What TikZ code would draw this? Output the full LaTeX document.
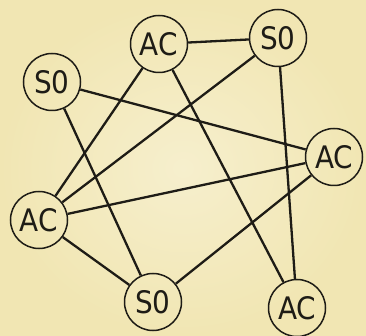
\documentclass[tikz,border=0pt]{standalone}
\usepackage{fontspec}
\setmainfont{DejaVu Sans Condensed}
\definecolor{bgin}{HTML}{F6EFCD}
\definecolor{bgout}{HTML}{F1E6B3}
\definecolor{ink}{HTML}{1E1C16}
\begin{document}
\begin{tikzpicture}[x=1pt,y=-1pt,
  vtx/.style={circle,draw=ink,line width=1.5pt,minimum size=57pt,inner sep=0pt,
    font=\fontsize{31}{31}\selectfont,text=ink},
  edge/.style={draw=ink,line width=2.3pt}]
\useasboundingbox (0,0) rectangle (366,336);
\shade[inner color=bgin,outer color=bgout] (0,0) rectangle (366,336);
\node[vtx] (act) at (159,44) {AC};
\node[vtx] (sotr) at (278,38) {S0};
\node[vtx] (sol) at (52,82) {S0};
\node[vtx] (acr) at (334,157) {AC};
\node[vtx] (acl) at (39,220) {AC};
\node[vtx] (sob) at (153,302) {S0};
\node[vtx] (acbr) at (297,308) {AC};
\path[edge] (act) -- (sotr);
\path[edge] (act) -- (acl);
\path[edge] (act) -- (acbr);
\path[edge] (sotr) -- (acl);
\path[edge] (sotr) -- (acbr);
\path[edge] (sol) -- (acr);
\path[edge] (sol) -- (sob);
\path[edge] (acr) -- (acl);
\path[edge] (acr) -- (sob);
\path[edge] (acl) -- (sob);
\end{tikzpicture}
\end{document}
